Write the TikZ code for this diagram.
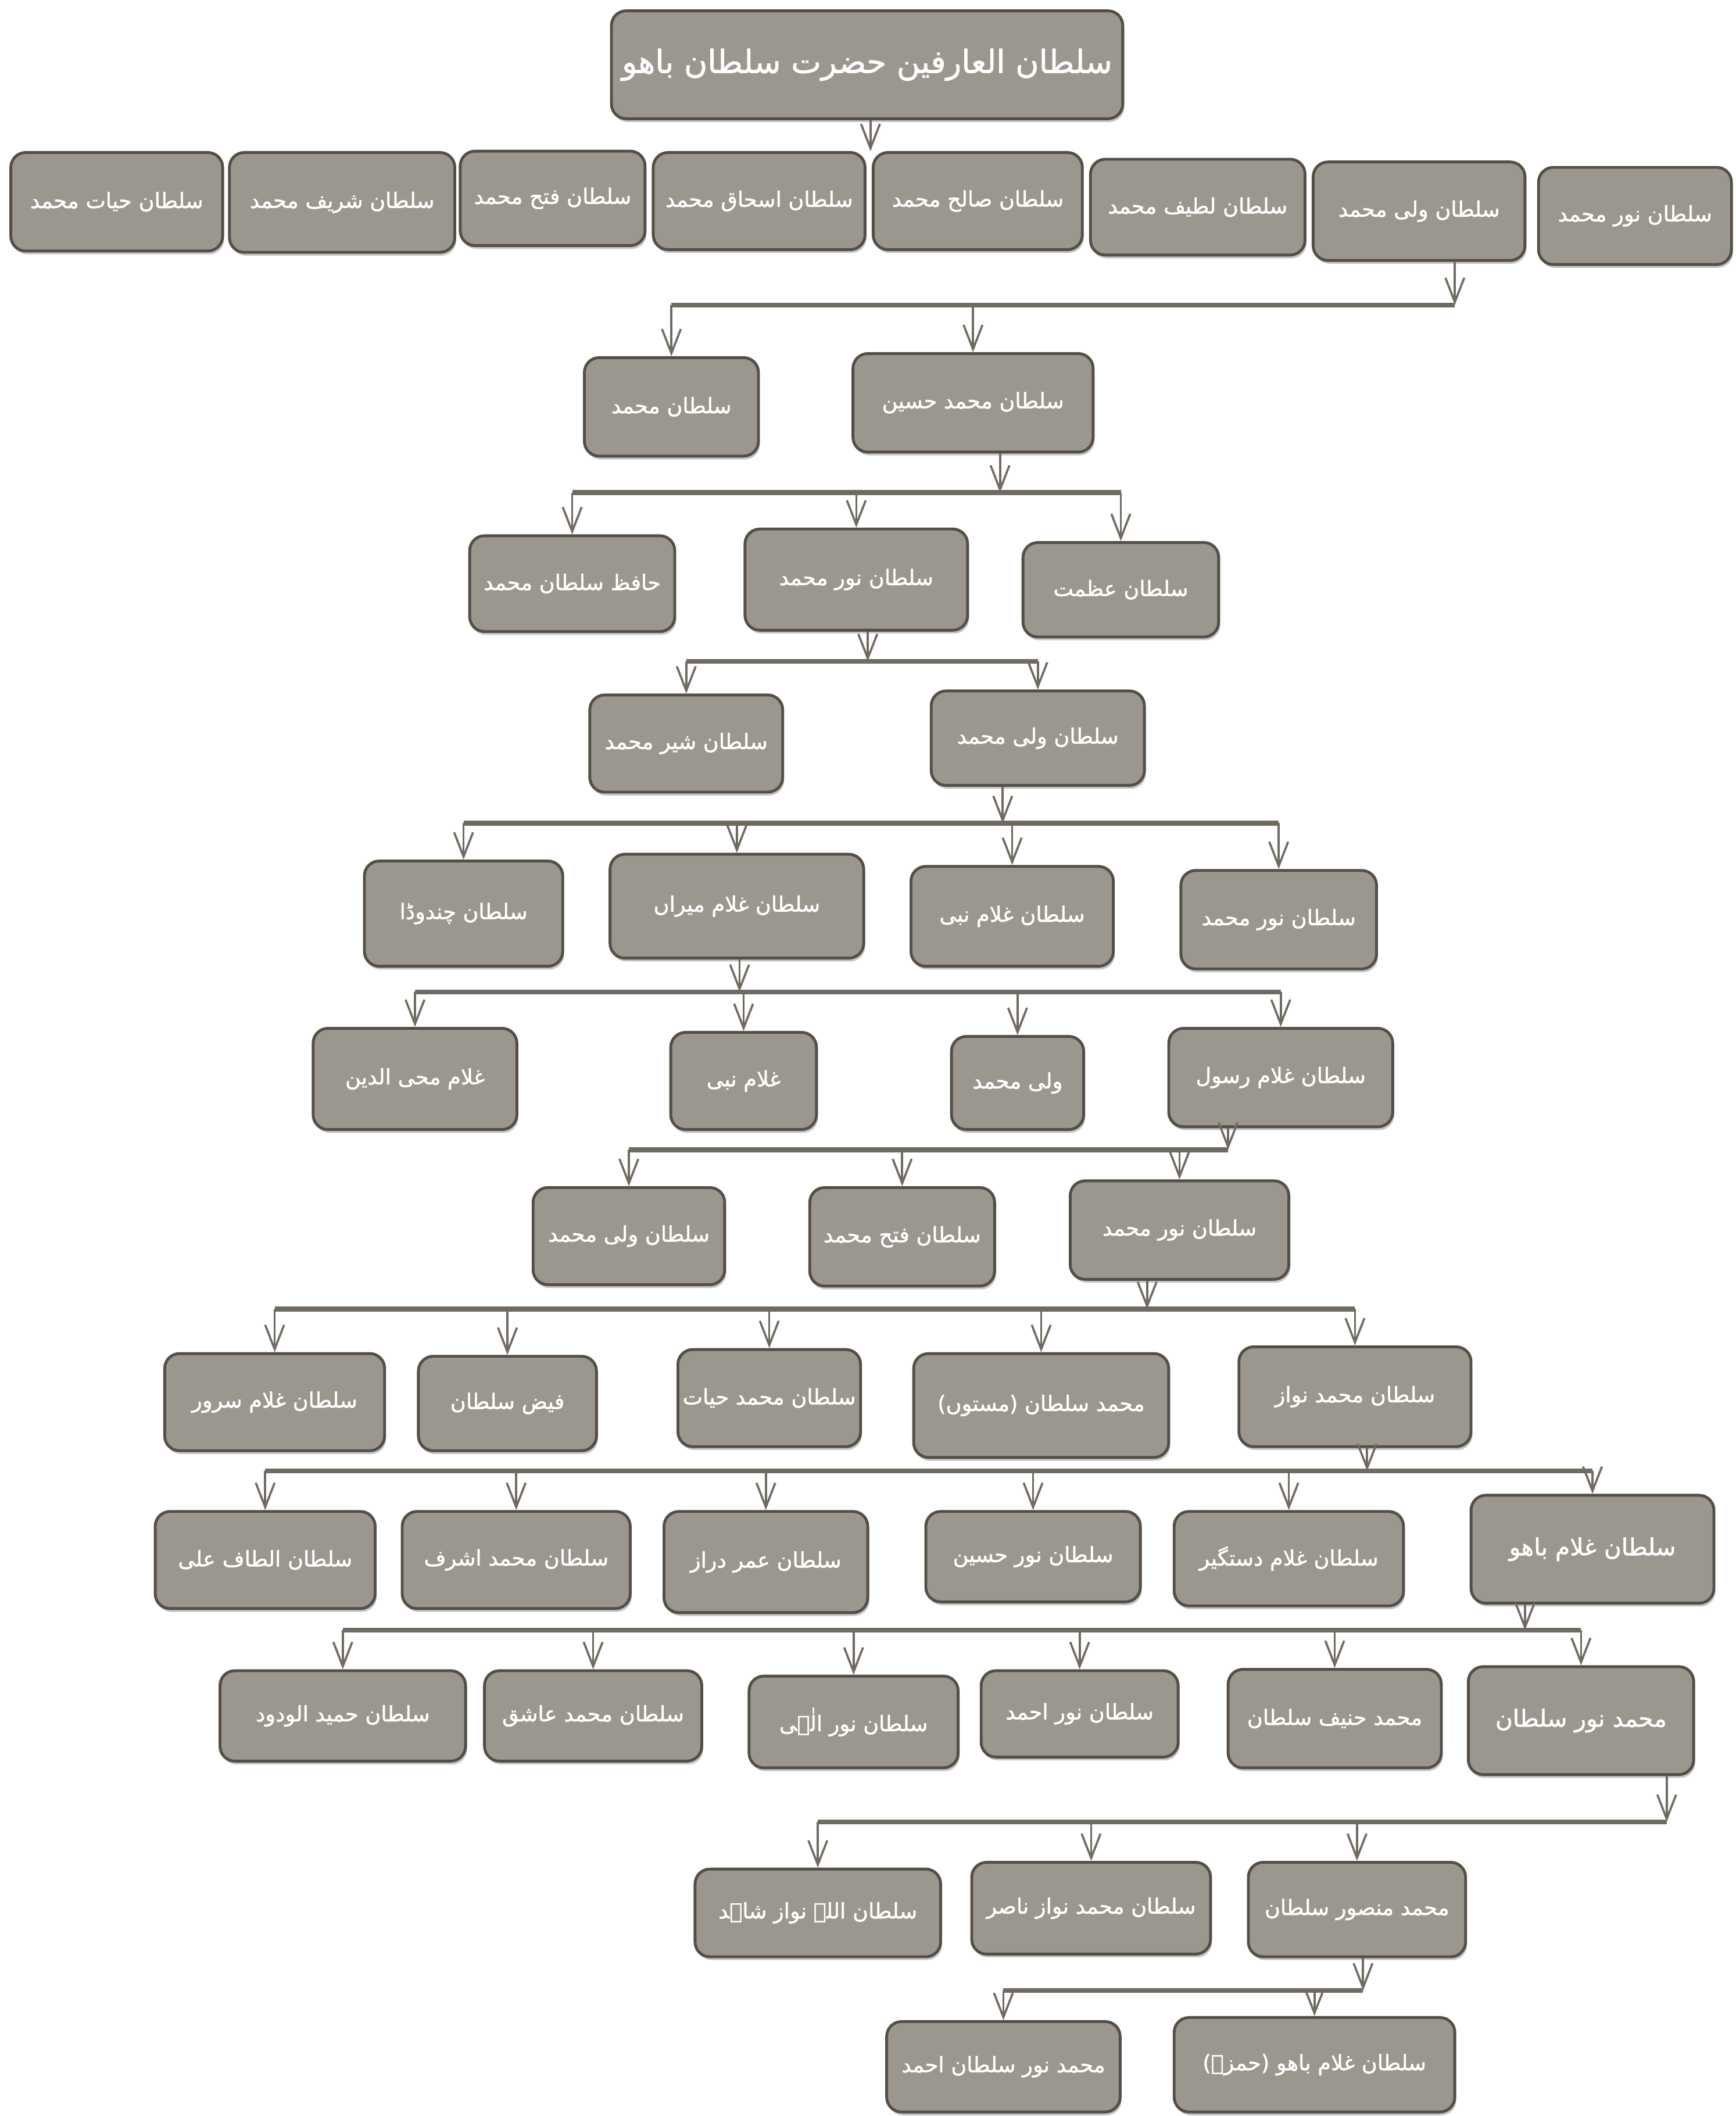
\documentclass[tikz,border=0pt]{standalone}
\usepackage{fontspec}
\newfontfamily\arabicfont[Script=Arabic,FakeBold=1.2]{DejaVu Sans}
\TeXXeTstate=1
\usetikzlibrary{arrows.meta,shadows}
\begin{document}
\begin{tikzpicture}[x={(0.02cm,0cm)},y={(0cm,-0.02cm)},
  fam/.style={draw={rgb,255:red,84;green,79;blue,70}, line width=1.2pt, fill={rgb,255:red,156;green,151;blue,142}, rounded corners=0.22cm, text=white, font=\arabicfont\small, inner sep=2pt, drop shadow={shadow xshift=0.6pt,shadow yshift=-1.4pt,opacity=0.45}, execute at begin node=\beginR, execute at end node=\endR},
  bar/.style={draw={rgb,255:red,112;green,107;blue,98}, line width=2pt},
  arr/.style={draw={rgb,255:red,112;green,107;blue,98}, line width=0.9pt, -{Straight Barb[length=0.36cm,width=0.28cm]}}]
\fill[white] (0,0) rectangle (1286,1568);
\useasboundingbox (0,0) rectangle (1286,1568);
\node[fam, font=\arabicfont\fontsize{13.5}{16}\selectfont, minimum width=7.58cm, minimum height=1.60cm] (bahu) at (642.5,48) {سلطان العارفین حضرت سلطان باھو};
\node[fam, minimum width=3.14cm, minimum height=1.46cm] (g1hayat) at (86.5,149.5) {سلطان حیات محمد};
\node[fam, minimum width=3.34cm, minimum height=1.48cm] (g1sharif) at (253.5,150) {سلطان شریف محمد};
\node[fam, minimum width=2.74cm, minimum height=1.40cm] (g1fateh) at (409.5,147) {سلطان فتح محمد};
\node[fam, minimum width=3.14cm, minimum height=1.44cm] (g1ishaq) at (562.5,149) {سلطان اسحاق محمد};
\node[fam, minimum width=3.10cm, minimum height=1.44cm] (g1saleh) at (724.5,149) {سلطان صالح محمد};
\node[fam, minimum width=3.18cm, minimum height=1.42cm] (g1latif) at (887.5,153.5) {سلطان لطیف محمد};
\node[fam, minimum width=3.14cm, minimum height=1.46cm] (g1wali) at (1051.5,156.5) {سلطان ولی محمد};
\node[fam, minimum width=2.86cm, minimum height=1.44cm] (g1noor) at (1211.5,160) {سلطان نور محمد};
\node[fam, minimum width=2.58cm, minimum height=1.46cm] (g2muhammad) at (497.5,301.5) {سلطان محمد};
\node[fam, minimum width=3.56cm, minimum height=1.46cm] (g2husain) at (721,298.5) {سلطان محمد حسین};
\node[fam, minimum width=3.04cm, minimum height=1.42cm] (g3hafiz) at (424,432.5) {حافظ سلطان محمد};
\node[fam, minimum width=3.30cm, minimum height=1.50cm] (g3noor) at (634.5,429.5) {سلطان نور محمد};
\node[fam, minimum width=2.90cm, minimum height=1.40cm] (g3azmat) at (830.5,437) {سلطان عظمت};
\node[fam, minimum width=2.86cm, minimum height=1.44cm] (g4sher) at (508.5,551) {سلطان شیر محمد};
\node[fam, minimum width=3.16cm, minimum height=1.40cm] (g4wali) at (769,547) {سلطان ولی محمد};
\node[fam, minimum width=2.94cm, minimum height=1.56cm] (g5chandwada) at (343.5,677) {سلطان چندوڈا};
\node[fam, minimum width=3.76cm, minimum height=1.54cm] (g5miran) at (546,671.5) {سلطان غلام میراں};
\node[fam, minimum width=3.00cm, minimum height=1.48cm] (g5nabi) at (750,679) {سلطان غلام نبی};
\node[fam, minimum width=2.90cm, minimum height=1.46cm] (g5noor) at (947.5,681.5) {سلطان نور محمد};
\node[fam, minimum width=3.02cm, minimum height=1.50cm] (g6mohiuddin) at (307.5,799.5) {غلام محی الدین};
\node[fam, minimum width=2.16cm, minimum height=1.44cm] (g6nabi) at (551,801) {غلام نبی};
\node[fam, minimum width=1.96cm, minimum height=1.38cm] (g6wali) at (754,802.5) {ولی محمد};
\node[fam, minimum width=3.32cm, minimum height=1.46cm] (g6rasool) at (949,798.5) {سلطان غلام رسول};
\node[fam, minimum width=2.84cm, minimum height=1.44cm] (g7wali) at (466,916) {سلطان ولی محمد};
\node[fam, minimum width=2.74cm, minimum height=1.46cm] (g7fateh) at (668.5,916.5) {سلطان فتح محمد};
\node[fam, minimum width=3.24cm, minimum height=1.46cm] (g7noor) at (874,911.5) {سلطان نور محمد};
\node[fam, minimum width=3.26cm, minimum height=1.44cm] (g8sarwar) at (203.5,1039) {سلطان غلام سرور};
\node[fam, minimum width=2.64cm, minimum height=1.40cm] (g8faiz) at (376,1040) {فیض سلطان};
\node[fam, minimum width=2.68cm, minimum height=1.44cm] (g8hayat) at (570,1036) {سلطان محمد حیات};
\node[fam, minimum width=3.78cm, minimum height=1.54cm] (g8mastan) at (771.5,1041.5) {محمد سلطان (مستوں)};
\node[fam, minimum width=3.44cm, minimum height=1.48cm] (g8nawaz) at (1004,1035) {سلطان محمد نواز};
\node[fam, minimum width=3.26cm, minimum height=1.44cm] (g9altaf) at (196.5,1156) {سلطان الطاف علی};
\node[fam, minimum width=3.38cm, minimum height=1.44cm] (g9ashraf) at (382.5,1156) {سلطان محمد اشرف};
\node[fam, minimum width=3.02cm, minimum height=1.50cm] (g9daraz) at (567.5,1157.5) {سلطان عمر دراز};
\node[fam, minimum width=3.18cm, minimum height=1.34cm] (g9husain) at (765.5,1153.5) {سلطان نور حسین};
\node[fam, minimum width=3.40cm, minimum height=1.40cm] (g9dastgir) at (955,1155) {سلطان غلام دستگیر};
\node[fam, font=\arabicfont\normalsize, minimum width=3.60cm, minimum height=1.60cm] (g9bahu) at (1180,1148) {سلطان غلام باھو};
\node[fam, minimum width=3.64cm, minimum height=1.34cm] (g10wadood) at (254,1271.5) {سلطان حمید الودود};
\node[fam, minimum width=3.22cm, minimum height=1.34cm] (g10ashiq) at (439.5,1271.5) {سلطان محمد عاشق};
\node[fam, minimum width=3.10cm, minimum height=1.36cm] (g10ilahi) at (632.5,1276) {سلطان نور الٰہی};
\node[fam, minimum width=2.92cm, minimum height=1.28cm] (g10ahmad) at (800,1270) {سلطان نور احمد};
\node[fam, minimum width=3.16cm, minimum height=1.46cm] (g10hanif) at (989,1273.5) {محمد حنیف سلطان};
\node[fam, font=\arabicfont\normalsize, minimum width=3.34cm, minimum height=1.60cm] (g10noor) at (1171.5,1275) {محمد نور سلطان};
\node[fam, minimum width=3.64cm, minimum height=1.30cm] (g11shahid) at (606,1417.5) {سلطان اللہ نواز شاہد};
\node[fam, minimum width=3.54cm, minimum height=1.36cm] (g11nasir) at (808.5,1414) {سلطان محمد نواز ناصر};
\node[fam, minimum width=3.22cm, minimum height=1.40cm] (g11mansoor) at (1005.5,1415) {محمد منصور سلطان};
\node[fam, minimum width=3.46cm, minimum height=1.34cm] (g12ahmad) at (743.5,1531.5) {محمد نور سلطان احمد};
\node[fam, minimum width=4.16cm, minimum height=1.40cm] (g12hamza) at (974,1530) {سلطان غلام باھو (حمزہ)};
\coordinate (r1) at (645,112);
\coordinate (j1) at (1078,226);
\coordinate (j2) at (741,365);
\coordinate (j3) at (643,490);
\coordinate (j4) at (743,610);
\coordinate (j5) at (548,735);
\coordinate (j6) at (910,852);
\coordinate (j7) at (850,970);
\coordinate (j8) at (1013,1090);
\coordinate (j9) at (1130,1208);
\coordinate (j10) at (1235,1350);
\coordinate (j11) at (1010,1475);
\draw[arr] (bahu.south -| r1) -- (r1);
\draw[arr] (g1wali.south -| j1) -- (j1);
\draw[bar] (g2muhammad.north |- j1) -- (j1);
\draw[arr] (g2muhammad.north |- j1) -- (g2muhammad.north);
\draw[arr] (g2husain.north |- j1) -- (g2husain.north);
\draw[arr] (g2husain.south -| j2) -- (j2);
\draw[bar] (g3hafiz.north |- j2) -- (g3azmat.north |- j2);
\draw[arr] (g3hafiz.north |- j2) -- (g3hafiz.north);
\draw[arr] (g3noor.north |- j2) -- (g3noor.north);
\draw[arr] (g3azmat.north |- j2) -- (g3azmat.north);
\draw[arr] (g3noor.south -| j3) -- (j3);
\draw[bar] (g4sher.north |- j3) -- (g4wali.north |- j3);
\draw[arr] (g4sher.north |- j3) -- (g4sher.north);
\draw[arr] (g4wali.north |- j3) -- (g4wali.north);
\draw[arr] (g4wali.south -| j4) -- (j4);
\draw[bar] (g5chandwada.north |- j4) -- (g5noor.north |- j4);
\draw[arr] (g5chandwada.north |- j4) -- (g5chandwada.north);
\draw[arr] (g5miran.north |- j4) -- (g5miran.north);
\draw[arr] (g5nabi.north |- j4) -- (g5nabi.north);
\draw[arr] (g5noor.north |- j4) -- (g5noor.north);
\draw[arr] (g5miran.south -| j5) -- (j5);
\draw[bar] (g6mohiuddin.north |- j5) -- (g6rasool.north |- j5);
\draw[arr] (g6mohiuddin.north |- j5) -- (g6mohiuddin.north);
\draw[arr] (g6nabi.north |- j5) -- (g6nabi.north);
\draw[arr] (g6wali.north |- j5) -- (g6wali.north);
\draw[arr] (g6rasool.north |- j5) -- (g6rasool.north);
\draw[arr] (g6rasool.south -| j6) -- (j6);
\draw[bar] (g7wali.north |- j6) -- (j6);
\draw[arr] (g7wali.north |- j6) -- (g7wali.north);
\draw[arr] (g7fateh.north |- j6) -- (g7fateh.north);
\draw[arr] (g7noor.north |- j6) -- (g7noor.north);
\draw[arr] (g7noor.south -| j7) -- (j7);
\draw[bar] (g8sarwar.north |- j7) -- (g8nawaz.north |- j7);
\draw[arr] (g8sarwar.north |- j7) -- (g8sarwar.north);
\draw[arr] (g8faiz.north |- j7) -- (g8faiz.north);
\draw[arr] (g8hayat.north |- j7) -- (g8hayat.north);
\draw[arr] (g8mastan.north |- j7) -- (g8mastan.north);
\draw[arr] (g8nawaz.north |- j7) -- (g8nawaz.north);
\draw[arr] (g8nawaz.south -| j8) -- (j8);
\draw[bar] (g9altaf.north |- j8) -- (g9bahu.north |- j8);
\draw[arr] (g9altaf.north |- j8) -- (g9altaf.north);
\draw[arr] (g9ashraf.north |- j8) -- (g9ashraf.north);
\draw[arr] (g9daraz.north |- j8) -- (g9daraz.north);
\draw[arr] (g9husain.north |- j8) -- (g9husain.north);
\draw[arr] (g9dastgir.north |- j8) -- (g9dastgir.north);
\draw[arr] (g9bahu.north |- j8) -- (g9bahu.north);
\draw[arr] (g9bahu.south -| j9) -- (j9);
\draw[bar] (g10wadood.north |- j9) -- (g10noor.north |- j9);
\draw[arr] (g10wadood.north |- j9) -- (g10wadood.north);
\draw[arr] (g10ashiq.north |- j9) -- (g10ashiq.north);
\draw[arr] (g10ilahi.north |- j9) -- (g10ilahi.north);
\draw[arr] (g10ahmad.north |- j9) -- (g10ahmad.north);
\draw[arr] (g10hanif.north |- j9) -- (g10hanif.north);
\draw[arr] (g10noor.north |- j9) -- (g10noor.north);
\draw[arr] (g10noor.south -| j10) -- (j10);
\draw[bar] (g11shahid.north |- j10) -- (j10);
\draw[arr] (g11shahid.north |- j10) -- (g11shahid.north);
\draw[arr] (g11nasir.north |- j10) -- (g11nasir.north);
\draw[arr] (g11mansoor.north |- j10) -- (g11mansoor.north);
\draw[arr] (g11mansoor.south -| j11) -- (j11);
\draw[bar] (g12ahmad.north |- j11) -- (j11);
\draw[arr] (g12ahmad.north |- j11) -- (g12ahmad.north);
\draw[arr] (g12hamza.north |- j11) -- (g12hamza.north);
\end{tikzpicture}
\end{document}
